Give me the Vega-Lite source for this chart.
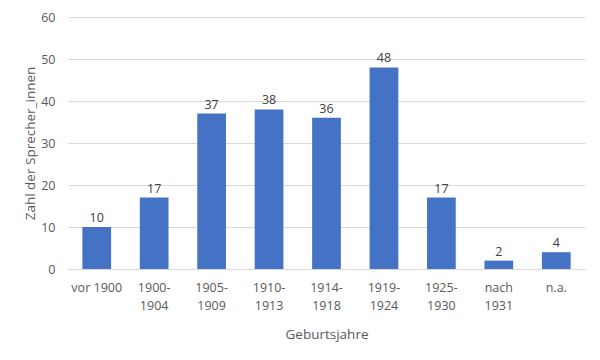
{
  "$schema": "https://vega.github.io/schema/vega-lite/v6.json",
  "autosize": {"type": "none"},
  "width": 517,
  "height": 252,
  "padding": {"left": 68, "top": 17, "right": 15, "bottom": 91},
  "background": "white",
  "config": {
    "view": {"stroke": null},
    "font": "Open Sans",
    "axis": {"labelFont": "Open Sans", "titleFont": "Open Sans", "labelColor": "#595959", "titleColor": "#595959", "labelFontSize": 12.5, "titleFontSize": 13.5, "titleFontWeight": "normal"}
  },
  "data": {
    "values": [
      {"gruppe": "vor 1900", "anzahl": 10},
      {"gruppe": "1900-1904", "anzahl": 17},
      {"gruppe": "1905-1909", "anzahl": 37},
      {"gruppe": "1910-1913", "anzahl": 38},
      {"gruppe": "1914-1918", "anzahl": 36},
      {"gruppe": "1919-1924", "anzahl": 48},
      {"gruppe": "1925-1930", "anzahl": 17},
      {"gruppe": "nach 1931", "anzahl": 2},
      {"gruppe": "n.a.", "anzahl": 4}
    ]
  },
  "encoding": {
    "x": {
      "field": "gruppe", "type": "nominal", "sort": null,
      "scale": {"paddingInner": 0.5, "paddingOuter": 0.25},
      "axis": {
        "title": "Geburtsjahre", "labelAngle": 0, "ticks": false, "domainColor": "#d9d9d9", "domainWidth": 1,
        "labelPadding": 12, "labelLineHeight": 18, "titlePadding": 16,
        "labelExpr": "indexof(datum.label, '-') > 0 ? [slice(datum.label, 0, 5), slice(datum.label, 5)] : (datum.label == 'nach 1931' ? ['nach', '1931'] : datum.label)"
      }
    },
    "y": {
      "field": "anzahl", "type": "quantitative",
      "scale": {"domain": [0, 60]},
      "axis": {
        "title": "Zahl der Sprecher_innen", "values": [0, 10, 20, 30, 40, 50, 60], "labelOverlap": false,
        "domain": false, "ticks": false, "gridColor": "#d9d9d9", "labelPadding": 13, "titlePadding": 3
      }
    }
  },
  "layer": [
    {"mark": {"type": "bar", "color": "#4472C4"}},
    {
      "mark": {"type": "text", "baseline": "bottom", "dy": -2, "color": "#404040", "fontSize": 12.5, "font": "Open Sans"},
      "encoding": {"text": {"field": "anzahl", "type": "quantitative"}}
    }
  ]
}
